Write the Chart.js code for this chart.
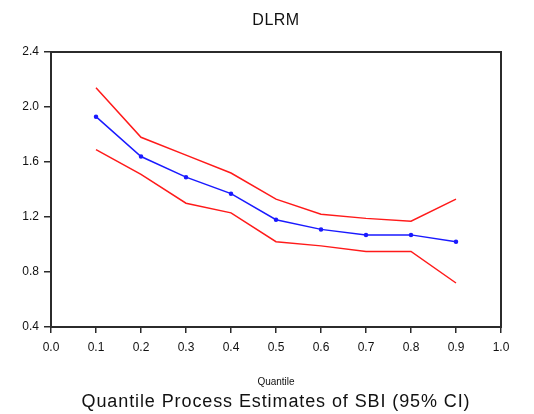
<!DOCTYPE html>
<html>
<head>
<meta charset="utf-8">
<script src="https://cdn.jsdelivr.net/npm/chart.js@4/dist/chart.umd.min.js"></script>
<style>
  html, body { margin: 0; padding: 0; background: #fff; }
  #wrap { width: 534px; height: 414px; }
</style>
</head>
<body>
<div id="wrap"><canvas id="c" width="534" height="414"></canvas></div>
<script>
// Quantile levels and the estimated SBI coefficient with its 95% band
const quantiles = [0.1, 0.2, 0.3, 0.4, 0.5, 0.6, 0.7, 0.8, 0.9];
const estimate  = [1.93, 1.64, 1.49, 1.37, 1.18, 1.11, 1.07, 1.07, 1.02];
const upperCI   = [2.14, 1.78, 1.65, 1.52, 1.33, 1.22, 1.19, 1.17, 1.33];
const lowerCI   = [1.69, 1.51, 1.30, 1.23, 1.02, 0.99, 0.95, 0.95, 0.72];
const xTicks = [0.0, 0.1, 0.2, 0.3, 0.4, 0.5, 0.6, 0.7, 0.8, 0.9, 1.0];
const yTicks = [0.4, 0.8, 1.2, 1.6, 2.0, 2.4];

const chartTitle = 'DLRM';
const xTitle = 'Quantile';
const caption = 'Quantile Process Estimates of SBI (95% CI)';

const FONT = '"Liberation Sans", Arial, sans-serif';

const toPoints = ys => quantiles.map((q, i) => ({ x: q, y: ys[i] }));

// Box around the plot plus the title and captions
const framePlugin = {
  id: 'frame',
  afterDraw(chart) {
    const { ctx, chartArea: a } = chart;
    ctx.save();
    ctx.strokeStyle = '#2b2b2b';
    ctx.lineWidth = 2;
    ctx.strokeRect(a.left, a.top, a.right - a.left, a.bottom - a.top);
    ctx.fillStyle = '#111';
    ctx.textAlign = 'center';
    ctx.textBaseline = 'middle';
    const cx = (a.left + a.right) / 2;
    ctx.letterSpacing = '0.5px';
    ctx.font = '16px ' + FONT;
    ctx.fillText(chartTitle, cx, 21);
    ctx.letterSpacing = '0px';
    ctx.font = '10px ' + FONT;
    ctx.fillText(xTitle, cx, 382);
    ctx.letterSpacing = '0.9px';
    ctx.font = '18px ' + FONT;
    ctx.fillText(caption, cx, 402);
    ctx.restore();
  }
};

new Chart(document.getElementById('c'), {
  type: 'line',
  data: {
    datasets: [
      { label: 'Upper', data: toPoints(upperCI), borderColor: '#ff1a1a', borderWidth: 1.5, pointRadius: 0, tension: 0 },
      { label: 'Estimate', data: toPoints(estimate), borderColor: '#1a1aff', borderWidth: 1.5, pointRadius: 1.5, pointBackgroundColor: '#1a1aff', pointBorderColor: '#1a1aff', tension: 0 },
      { label: 'Lower', data: toPoints(lowerCI), borderColor: '#ff1a1a', borderWidth: 1.5, pointRadius: 0, tension: 0 }
    ]
  },
  options: {
    responsive: false,
    animation: false,
    layout: { padding: { top: 52, right: 33, left: 0, bottom: 0 } },
    plugins: { legend: { display: false }, tooltip: { enabled: false } },
    scales: {
      x: {
        type: 'linear', min: 0, max: 1,
        afterBuildTicks(s) { s.ticks = xTicks.map(v => ({ value: v })); },
        afterFit(s) { s.height = 87; },
        grid: { drawOnChartArea: false, drawTicks: true, tickLength: 6, color: '#2b2b2b', lineWidth: 1.5 },
        border: { display: false },
        ticks: { color: '#111', padding: 7, maxRotation: 0, font: { family: FONT, size: 12 },
                 callback: v => Number(v).toFixed(1) }
      },
      y: {
        type: 'linear', min: 0.4, max: 2.4,
        afterBuildTicks(s) { s.ticks = yTicks.map(v => ({ value: v })); },
        afterFit(s) { s.width = 51; },
        grid: { drawOnChartArea: false, drawTicks: true, tickLength: 7, color: '#2b2b2b', lineWidth: 1.5 },
        border: { display: false },
        ticks: { color: '#111', padding: 5, font: { family: FONT, size: 12 },
                 callback: v => Number(v).toFixed(1) }
      }
    }
  },
  plugins: [framePlugin]
});
</script>
</body>
</html>
